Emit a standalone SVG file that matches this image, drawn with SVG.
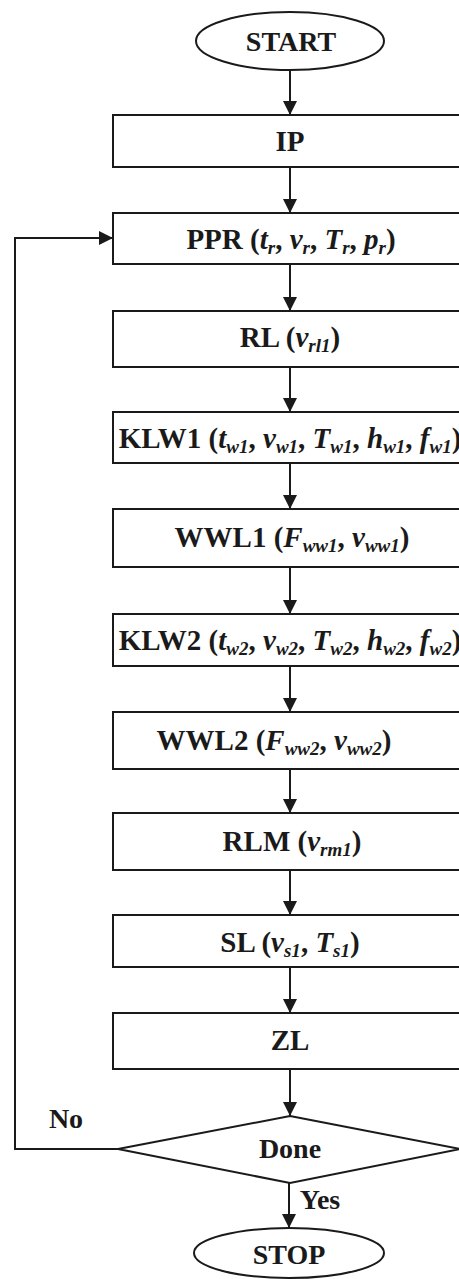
<svg xmlns="http://www.w3.org/2000/svg" width="459" height="1279" viewBox="0 0 459 1279">
  <style>
    .shape { fill: #ffffff; stroke: #1a1a1a; stroke-width: 2; }
    .edge { fill: none; stroke: #1a1a1a; stroke-width: 2; }
    .lbl { font-family: "Liberation Serif", "Times New Roman", serif; font-size: 28px; font-weight: bold; fill: #1a1a1a; text-anchor: middle; }
    .box { font-size: 29px; }
    .it { font-style: italic; }
    .sub { font-style: italic; font-size: 19px; }
  </style>
  <defs>
    <marker id="arrow" markerUnits="userSpaceOnUse" markerWidth="14" markerHeight="14" refX="14" refY="7" orient="auto">
      <path d="M0,0 L14,7 L0,14 z" fill="#1a1a1a"/>
    </marker>
  </defs>
  <rect width="459" height="1279" fill="#ffffff"/>

  <!-- connectors -->
  <g id="connectors">
    <line class="edge" x1="290" y1="70" x2="290" y2="115" marker-end="url(#arrow)"/>
    <line class="edge" x1="290" y1="167" x2="290" y2="213" marker-end="url(#arrow)"/>
    <line class="edge" x1="290" y1="264" x2="290" y2="311" marker-end="url(#arrow)"/>
    <line class="edge" x1="290" y1="367" x2="290" y2="412" marker-end="url(#arrow)"/>
    <line class="edge" x1="290" y1="463" x2="290" y2="509" marker-end="url(#arrow)"/>
    <line class="edge" x1="290" y1="567" x2="290" y2="614" marker-end="url(#arrow)"/>
    <line class="edge" x1="290" y1="666" x2="290" y2="712" marker-end="url(#arrow)"/>
    <line class="edge" x1="290" y1="769" x2="290" y2="813" marker-end="url(#arrow)"/>
    <line class="edge" x1="290" y1="870" x2="290" y2="915" marker-end="url(#arrow)"/>
    <line class="edge" x1="290" y1="967" x2="290" y2="1013" marker-end="url(#arrow)"/>
    <line class="edge" x1="290" y1="1069" x2="290" y2="1116" marker-end="url(#arrow)"/>
    <line class="edge" x1="289" y1="1183" x2="289" y2="1228" marker-end="url(#arrow)"/>
    <polyline class="edge" points="118,1149 15,1149 15,238 113,238" marker-end="url(#arrow)"/>
    <text class="lbl" x="66" y="1128">No</text>
    <text class="lbl" x="320" y="1209">Yes</text>
  </g>

  <g id="start">
    <ellipse class="shape" cx="290" cy="41" rx="94" ry="29"/>
    <text class="lbl" x="291" y="51">START</text>
  </g>

  <g id="ip">
    <rect class="shape" x="113" y="115" width="355" height="52"/>
    <text class="lbl box" x="290" y="151">IP</text>
  </g>

  <g id="ppr">
    <rect class="shape" x="113" y="213" width="355" height="51"/>
    <text class="lbl box" x="291" y="249">PPR (<tspan class="it">t</tspan><tspan class="sub" dy="5">r</tspan><tspan dy="-5">, </tspan><tspan class="it">v</tspan><tspan class="sub" dy="5">r</tspan><tspan dy="-5">, </tspan><tspan class="it">T</tspan><tspan class="sub" dy="5">r</tspan><tspan dy="-5">, </tspan><tspan class="it">p</tspan><tspan class="sub" dy="5">r</tspan><tspan dy="-5">)</tspan></text>
  </g>

  <g id="rl">
    <rect class="shape" x="113" y="311" width="355" height="56"/>
    <text class="lbl box" x="290" y="347">RL (<tspan class="it">v</tspan><tspan class="sub" dy="5">rl1</tspan><tspan dy="-5">)</tspan></text>
  </g>

  <g id="klw1">
    <rect class="shape" x="113" y="412" width="355" height="51"/>
    <text class="lbl box" x="290" y="448">KLW1 (<tspan class="it">t</tspan><tspan class="sub" dy="5">w1</tspan><tspan dy="-5">, </tspan><tspan class="it">v</tspan><tspan class="sub" dy="5">w1</tspan><tspan dy="-5">, </tspan><tspan class="it">T</tspan><tspan class="sub" dy="5">w1</tspan><tspan dy="-5">, </tspan><tspan class="it">h</tspan><tspan class="sub" dy="5">w1</tspan><tspan dy="-5">, </tspan><tspan class="it">f</tspan><tspan class="sub" dy="5">w1</tspan><tspan dy="-5">)</tspan></text>
  </g>

  <g id="wwl1">
    <rect class="shape" x="113" y="509" width="355" height="58"/>
    <text class="lbl box" x="292" y="547">WWL1 (<tspan class="it">F</tspan><tspan class="sub" dy="5">ww1</tspan><tspan dy="-5">, </tspan><tspan class="it">v</tspan><tspan class="sub" dy="5">ww1</tspan><tspan dy="-5">)</tspan></text>
  </g>

  <g id="klw2">
    <rect class="shape" x="113" y="614" width="355" height="52"/>
    <text class="lbl box" x="290" y="650">KLW2 (<tspan class="it">t</tspan><tspan class="sub" dy="5">w2</tspan><tspan dy="-5">, </tspan><tspan class="it">v</tspan><tspan class="sub" dy="5">w2</tspan><tspan dy="-5">, </tspan><tspan class="it">T</tspan><tspan class="sub" dy="5">w2</tspan><tspan dy="-5">, </tspan><tspan class="it">h</tspan><tspan class="sub" dy="5">w2</tspan><tspan dy="-5">, </tspan><tspan class="it">f</tspan><tspan class="sub" dy="5">w2</tspan><tspan dy="-5">)</tspan></text>
  </g>

  <g id="wwl2">
    <rect class="shape" x="113" y="712" width="355" height="57"/>
    <text class="lbl box" x="274" y="750">WWL2 (<tspan class="it">F</tspan><tspan class="sub" dy="5">ww2</tspan><tspan dy="-5">, </tspan><tspan class="it">v</tspan><tspan class="sub" dy="5">ww2</tspan><tspan dy="-5">)</tspan></text>
  </g>

  <g id="rlm">
    <rect class="shape" x="113" y="813" width="355" height="57"/>
    <text class="lbl box" x="292" y="851">RLM (<tspan class="it">v</tspan><tspan class="sub" dy="5">rm1</tspan><tspan dy="-5">)</tspan></text>
  </g>

  <g id="sl">
    <rect class="shape" x="113" y="915" width="355" height="52"/>
    <text class="lbl box" x="290" y="952">SL (<tspan class="it">v</tspan><tspan class="sub" dy="5">s1</tspan><tspan dy="-5">, </tspan><tspan class="it">T</tspan><tspan class="sub" dy="5">s1</tspan><tspan dy="-5">)</tspan></text>
  </g>

  <g id="zl">
    <rect class="shape" x="113" y="1013" width="355" height="56"/>
    <text class="lbl box" x="290" y="1050">ZL</text>
  </g>

  <g id="done">
    <polygon class="shape" points="290,1116 460,1149 290,1183 118,1149"/>
    <text class="lbl" x="290" y="1158">Done</text>
  </g>

  <g id="stop">
    <ellipse class="shape" cx="289" cy="1253" rx="95" ry="25"/>
    <text class="lbl" x="289" y="1264">STOP</text>
  </g>
</svg>
